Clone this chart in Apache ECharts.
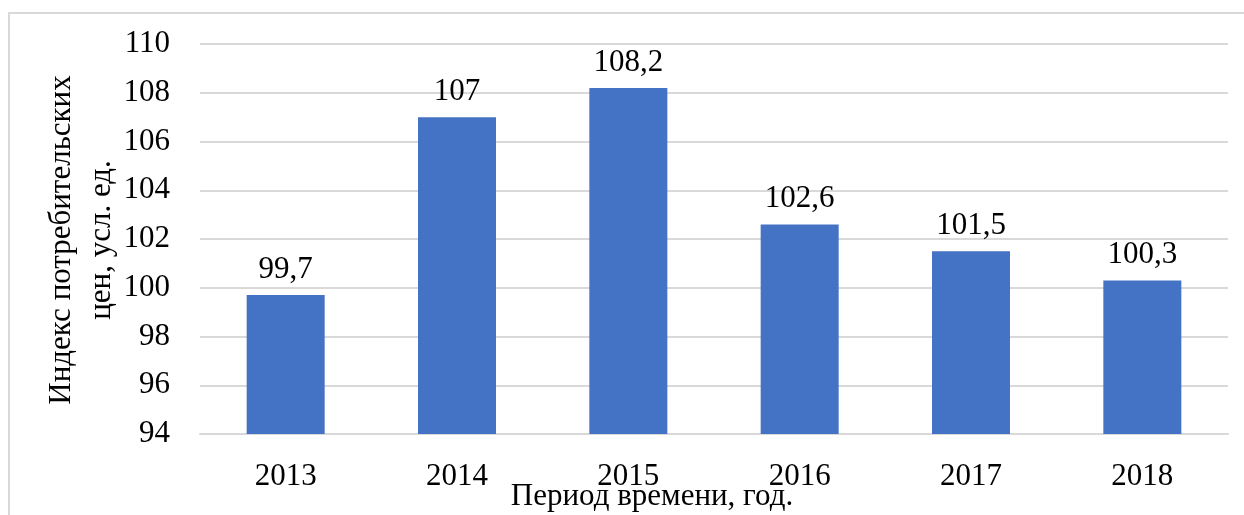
<!DOCTYPE html>
<html>
<head>
<meta charset="utf-8">
<script src="https://cdn.jsdelivr.net/npm/echarts@6/dist/echarts.min.js"></script>
<style>
html,body{margin:0;padding:0;background:#fff;}
#main{width:1244px;height:515px;}
</style>
</head>
<body>
<div id="main"></div>
<script>
const categories = ['2013', '2014', '2015', '2016', '2017', '2018'];
const values = [99.7, 107, 108.2, 102.6, 101.5, 100.3];
const yTicks = { min: 94, max: 110, interval: 2 };
const yTitle = 'Индекс потребительских\nцен, усл. ед.';
const xTitle = 'Период времени, год.';

const FONT = 'Liberation Serif';
const FS = 31;
const chart = echarts.init(document.getElementById('main'), null, { renderer: 'canvas' });
chart.setOption({
  animation: false,
  backgroundColor: '#fff',
  grid: { left: 200, right: 16, top: 44, bottom: 81, containLabel: false, outerBoundsMode: 'none' },
  graphic: [
    { type: 'rect', silent: true, shape: { x: 9, y: 13, width: 1400, height: 700 },
      style: { fill: 'none', stroke: '#d9d9d9', lineWidth: 2 } },
    { type: 'text', silent: true, x: 652, y: 497,
      style: { text: xTitle, fontFamily: FONT, fontSize: FS, fill: '#000', align: 'center', verticalAlign: 'middle' } },
    { type: 'text', silent: true, x: 82, y: 240, rotation: Math.PI / 2,
      style: { text: yTitle, fontFamily: FONT, fontSize: FS, lineHeight: 40, fill: '#000', align: 'center', verticalAlign: 'middle' } }
  ],
  xAxis: {
    type: 'category',
    data: categories,
    axisLine: { show: true, lineStyle: { color: '#d9d9d9', width: 2 } },
    axisTick: { show: false },
    axisLabel: { color: '#000', fontFamily: FONT, fontSize: FS, margin: 27 }
  },
  yAxis: {
    type: 'value',
    min: yTicks.min, max: yTicks.max, interval: yTicks.interval,
    axisLine: { show: false },
    axisTick: { show: false },
    splitLine: { lineStyle: { color: '#d9d9d9', width: 2 } },
    axisLabel: { color: '#000', fontFamily: FONT, fontSize: FS, margin: 30 }
  },
  series: [{
    type: 'bar',
    data: values,
    barWidth: 78,
    itemStyle: { color: '#4472C4' },
    label: {
      show: true, position: 'top', distance: 10,
      color: '#000', fontFamily: FONT, fontSize: FS,
      formatter: p => String(p.value).replace('.', ',')
    }
  }]
});
</script>
</body>
</html>
